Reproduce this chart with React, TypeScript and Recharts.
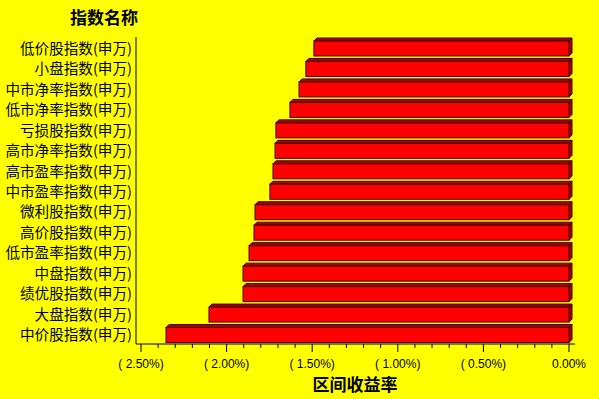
import React from 'react';
import { BarChart, Bar, XAxis, YAxis } from 'recharts';

const categories = [
  '低价股指数(申万)',
  '小盘指数(申万)',
  '中市净率指数(申万)',
  '低市净率指数(申万)',
  '亏损股指数(申万)',
  '高市净率指数(申万)',
  '高市盈率指数(申万)',
  '中市盈率指数(申万)',
  '微利股指数(申万)',
  '高价股指数(申万)',
  '低市盈率指数(申万)',
  '中盘指数(申万)',
  '绩优股指数(申万)',
  '大盘指数(申万)',
  '中价股指数(申万)',
];

const returns = [
  -1.49, -1.537, -1.577, -1.63, -1.712, -1.717, -1.729, -1.747, -1.834, -1.84,
  -1.869, -1.904, -1.904, -2.103, -2.354,
];

const xTicks = [
  -2.5, -2.4, -2.3, -2.2, -2.1, -2.0, -1.9, -1.8, -1.7, -1.6, -1.5, -1.4, -1.3,
  -1.2, -1.1, -1.0, -0.9, -0.8, -0.7, -0.6, -0.5, -0.4, -0.3, -0.2, -0.1, 0,
];
const majorTicks = [-2.5, -2.0, -1.5, -1.0, -0.5, 0];

const data = categories.map((name, i) => ({ name, value: returns[i] }));

const fmt = (v: number) =>
  Math.abs(v) < 1e-9 ? '0.00%' : `( ${Math.abs(v).toFixed(2)}%)`;

const isMajor = (v: number) => majorTicks.some((m) => Math.abs(m - v) < 1e-6);

const XTick = (props: any) => {
  const { x, y, payload } = props;
  const major = isMajor(payload.value);
  return (
    <g>
      <line x1={x} x2={x} y1={y} y2={y + (major ? 8 : 4)} stroke="#000" strokeWidth={1} />
      {major && (
        <text
          x={x}
          y={y + 20}
          textAnchor="middle"
          dominantBaseline="central"
          fontFamily="'Liberation Sans', Arial, sans-serif"
          fontSize={12}
          fill="#000"
        >
          {fmt(payload.value)}
        </text>
      )}
    </g>
  );
};

const YTick = (props: any) => {
  const { x, y, payload } = props;
  return (
    <text
      x={x}
      y={y}
      textAnchor="end"
      dominantBaseline="central"
      fontFamily="'Noto Sans CJK SC', sans-serif"
      fontSize={14.6}
      fill="#000"
    >
      {payload.value}
    </text>
  );
};

const Bar3D = (props: any) => {
  const { x, y, width, height } = props;
  const left = Math.min(x, x + width);
  const right = Math.max(x, x + width);
  const d = 3;
  const top = y;
  const bottom = y + height;
  return (
    <g>
      <polygon
        points={`${left},${top + d} ${left + d},${top} ${right + d},${top} ${right},${top + d}`}
        fill="#A80000"
        stroke="#400000"
        strokeWidth={1}
      />
      <polygon
        points={`${right},${top + d} ${right + d},${top} ${right + d},${bottom - d} ${right},${bottom}`}
        fill="#A00000"
        stroke="#400000"
        strokeWidth={1}
      />
      <rect
        x={left}
        y={top + d}
        width={right - left}
        height={height - d}
        fill="#FF0000"
        stroke="#400000"
        strokeWidth={1}
      />
    </g>
  );
};

export default function App() {
  return (
    <div
      style={{
        position: 'absolute',
        left: 0,
        top: 0,
        width: 599,
        height: 399,
        background: '#FFFF00',
        overflow: 'hidden',
      }}
    >
      <BarChart
        width={599}
        height={399}
        data={data}
        layout="vertical"
        margin={{ top: 37, right: 24, bottom: 0, left: 0 }}
        barSize={18}
      >
        <XAxis
          type="number"
          domain={[-2.5, 0]}
          ticks={xTicks}
          interval={0}
          padding={{ left: 5, right: 6 }}
          axisLine={{ stroke: '#000', strokeWidth: 1 }}
          tickLine={false}
          tickSize={0}
          tickMargin={0}
          tick={<XTick />}
          height={55}
        />
        <YAxis
          type="category"
          dataKey="name"
          width={136}
          axisLine={{ stroke: '#000', strokeWidth: 1 }}
          tickLine={false}
          tickSize={0}
          tickMargin={4}
          interval={0}
          tick={<YTick />}
        />
        <Bar dataKey="value" isAnimationActive={false} shape={<Bar3D />} />
      </BarChart>
      <div
        style={{
          position: 'absolute',
          left: 104,
          top: 16,
          transform: 'translate(-50%, -50%)',
          fontFamily: "'Noto Sans CJK SC', sans-serif",
          fontWeight: 'bold',
          fontSize: 17,
          lineHeight: 1,
          whiteSpace: 'nowrap',
          color: '#000',
        }}
      >
        指数名称
      </div>
      <div
        style={{
          position: 'absolute',
          left: 355,
          top: 383,
          transform: 'translate(-50%, -50%)',
          fontFamily: "'Noto Sans CJK SC', sans-serif",
          fontWeight: 'bold',
          fontSize: 17,
          lineHeight: 1,
          whiteSpace: 'nowrap',
          color: '#000',
        }}
      >
        区间收益率
      </div>
    </div>
  );
}
